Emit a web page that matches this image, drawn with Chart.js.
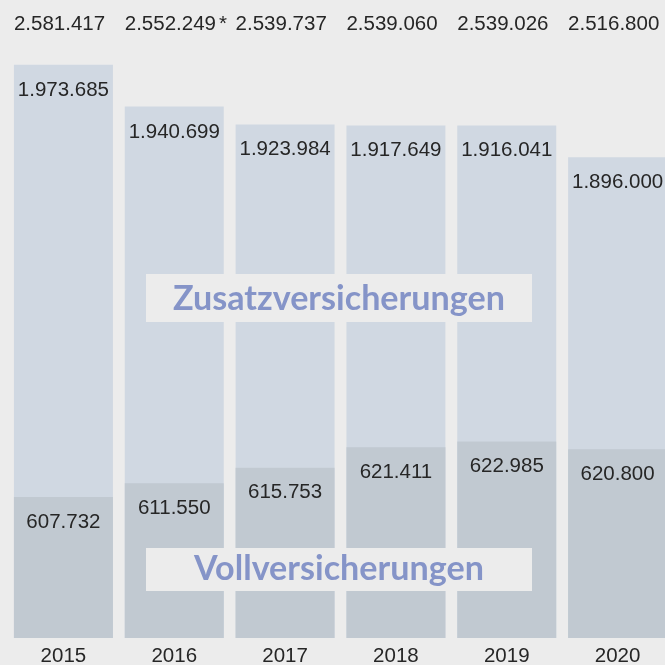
<!DOCTYPE html>
<html lang="de">
<head>
<meta charset="utf-8">
<title>Versicherte Personen</title>
<script src="https://cdn.jsdelivr.net/npm/chart.js@4.4.1/dist/chart.umd.min.js"></script>
<style>
  html, body { margin: 0; padding: 0; background: #ececec; overflow: hidden; }
  #wrap { width: 673px; height: 665px; }
</style>
</head>
<body>
<div id="wrap"><canvas id="graficoVers" width="673" height="665"></canvas></div>
<script>
const jahre = ["2015", "2016", "2017", "2018", "2019", "2020"];
const gesamt = [2581417, 2552249, 2539737, 2539060, 2539026, 2516800];
const zusatz = [1973685, 1940699, 1923984, 1917649, 1916041, 1896000];
const voll = [607732, 611550, 615753, 621411, 622985, 620800];
const fussnote = ["", "*", "", "", "", ""];

const fmt = (n) => String(n).replace(/\B(?=(\d{3})+(?!\d))/g, ".");

// Zahlen, Jahre und die beiden Kaesten mit Ueberschrift
const beschriftung = {
  id: "beschriftung",
  afterDatasetsDraw(chart) {
    const ctx = chart.ctx;
    const metaVoll = chart.getDatasetMeta(0);
    const metaGes = chart.getDatasetMeta(1);
    ctx.save();
    ctx.font = '20.5px "Liberation Sans", Arial, sans-serif';
    ctx.fillStyle = "#262626";
    ctx.textBaseline = "alphabetic";

    metaGes.data.forEach((bar, i) => {
      const links = bar.x - bar.width / 2;
      ctx.textAlign = "left";
      ctx.fillText(fmt(gesamt[i]), links, 30);
      if (fussnote[i]) {
        const w = ctx.measureText(fmt(gesamt[i])).width;
        ctx.fillText(fussnote[i], links + w + 3, 30);
      }
      ctx.textAlign = "center";
      ctx.fillText(fmt(zusatz[i]), bar.x, bar.y + 31);
      ctx.fillText(jahre[i], bar.x, 662);
    });

    metaVoll.data.forEach((bar, i) => {
      ctx.fillText(fmt(voll[i]), bar.x, bar.y + 30.5);
    });

    // Kaesten
    ctx.fillStyle = "#ececec";
    ctx.fillRect(146, 274, 386, 48);
    ctx.fillRect(146, 548, 386, 43);

    ctx.font = 'bold 32px Lato, "Open Sans", sans-serif';
    const breite = ctx.measureText("Zusatzversicherungen").width;
    const groesse = 32 * 332 / breite;
    ctx.font = 'bold ' + groesse.toFixed(2) + 'px Lato, "Open Sans", sans-serif';
    ctx.fillStyle = "#8594c8";
    ctx.textAlign = "center";
    ctx.fillText("Zusatzversicherungen", 339, 310);
    ctx.fillText("Vollversicherungen", 339, 580);
    ctx.restore();
  }
};

const canvasVers = document.getElementById("graficoVers");

new Chart(canvasVers, {
  type: "bar",
  data: {
    labels: jahre,
    datasets: [
      {
        label: "Vollversicherungen",
        data: voll,
        yAxisID: "yVoll",
        backgroundColor: "#c1c9d1",
        grouped: false,
        barPercentage: 0.893,
        categoryPercentage: 1
      },
      {
        label: "Gesamt",
        data: gesamt,
        yAxisID: "yGes",
        backgroundColor: "#d0d8e2",
        grouped: false,
        barPercentage: 0.893,
        categoryPercentage: 1
      }
    ]
  },
  options: {
    responsive: false,
    animation: false,
    devicePixelRatio: 1,
    layout: { padding: { left: 8, right: 0, top: 40, bottom: 27 } },
    plugins: {
      legend: { display: false },
      tooltip: { enabled: false }
    },
    scales: {
      x: { display: false },
      // Grafik beginnt nicht bei null
      yGes: { display: false, min: 2181300, max: 2598700 },
      yVoll: { display: false, min: 569160, max: 732860 }
    }
  },
  plugins: [beschriftung]
});
</script>
</body>
</html>
